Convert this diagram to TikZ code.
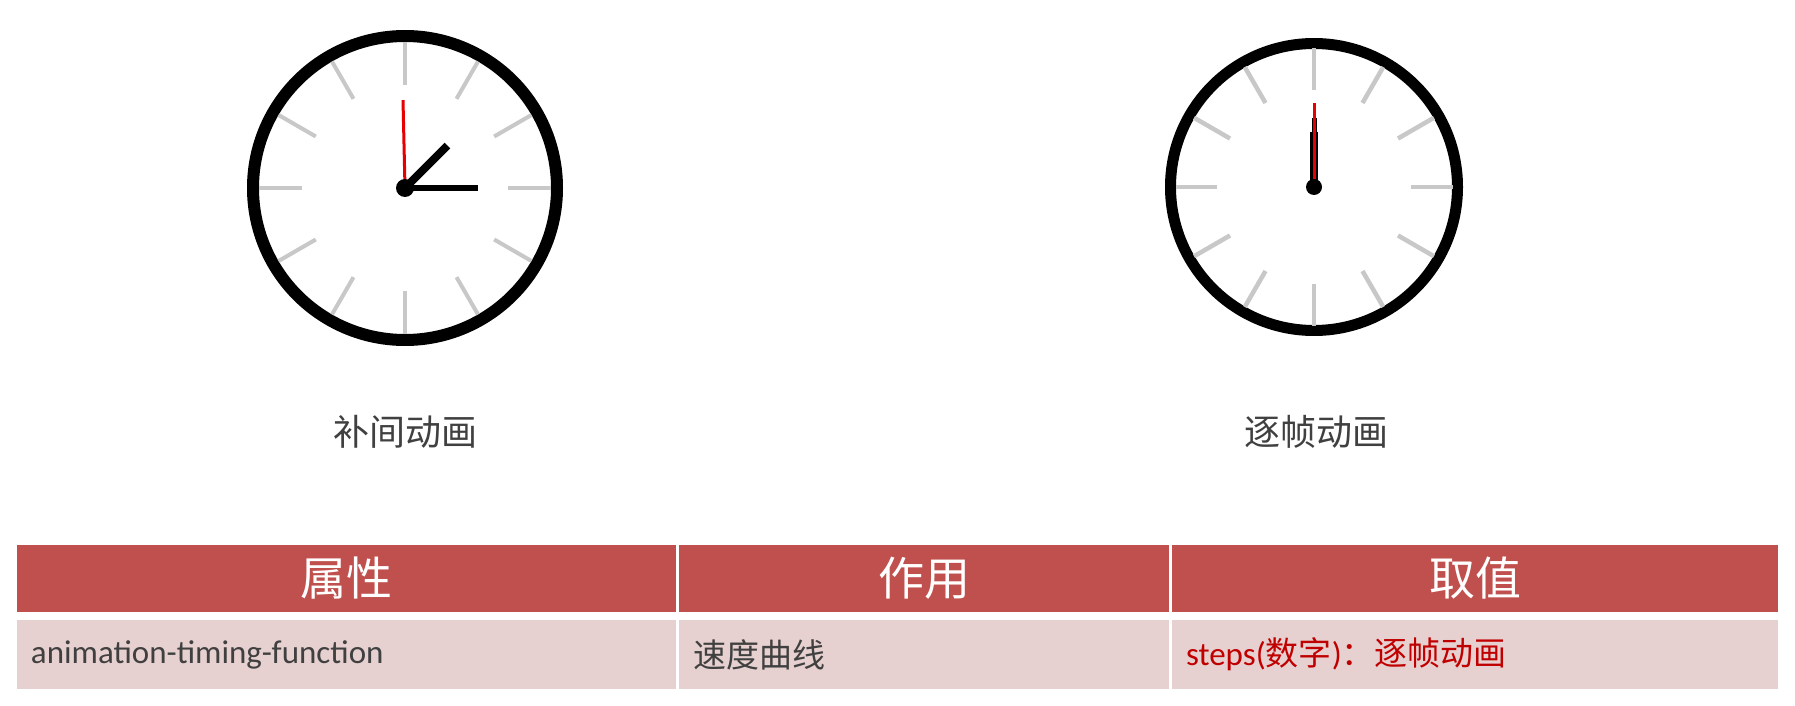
\documentclass[tikz,border=0pt]{standalone}
\usepackage{fontspec}
\setmainfont{Carlito}
\newfontfamily\cjk{Noto Sans CJK SC}
\usetikzlibrary{positioning,calc}
\definecolor{headred}{HTML}{C0504D}
\definecolor{rowpink}{HTML}{E7D0D0}
\definecolor{tickgray}{HTML}{C8C8C8}
\definecolor{handred}{HTML}{E60000}
\definecolor{textgray}{HTML}{404040}
\definecolor{valred}{HTML}{C00000}

\begin{document}
\begin{tikzpicture}[
    x=0.5pt, y=-0.5pt,
    dial/.style={draw=black, fill=white},
    dialtick/.style={draw=tickgray},
    clockhand/.style={draw=black},
    redhand/.style={draw=handred, line width=1.5pt},
    caption/.style={text=textgray, font=\cjk\fontsize{18}{22}\selectfont},
    headcell/.style={fill=headred, text=white, font=\cjk\fontsize{23}{27}\selectfont, inner sep=0pt, outer sep=0pt, minimum height=33.5pt, align=center},
    bodycell/.style={fill=rowpink, text=textgray, font=\fontsize{16.5}{20}\selectfont, inner xsep=7pt, inner ysep=0pt, outer sep=0pt, minimum height=34.5pt, align=left}
]
\fill[white] (0,0) rectangle (1795,706);
\useasboundingbox (0,0) rectangle (1795,706);

\coordinate (tween) at (405,188);
\draw[dial, line width=6pt] (tween) circle[radius=152];
\foreach \a in {0,30,...,330}
    \draw[dialtick, line width=2pt] ($(tween)+(\a:103)$) -- ($(tween)+(\a:146)$);
\draw[redhand] (tween) -- ++(-91.3:88);
\draw[clockhand, line width=4pt] (tween) -- ++(-45:60);
\draw[clockhand, line width=3pt] (tween) -- ++(0:73);
\fill (tween) circle[radius=9];

\coordinate (frame) at (1314,187);
\draw[dial, line width=5.5pt] (frame) circle[radius=143.5];
\foreach \a in {0,30,...,330}
    \draw[dialtick, line width=2.25pt] ($(frame)+(\a:97)$) -- ($(frame)+(\a:138.5)$);
\draw[clockhand, line width=4pt] (frame) -- ++(0,-55);
\draw[clockhand, line width=2.5pt] (frame) -- ++(0,-69);
\draw[redhand] (frame) -- ++(0,-84);
\fill (frame) circle[radius=8];

\node[caption] (captween) at (405,432) {补间动画};
\node[caption] (capframe) at (1316,432) {逐帧动画};

\node[headcell, minimum width=329.5pt, anchor=north west] (hprop) at (17,545) {属性};
\node[headcell, minimum width=245pt, right=1.5pt of hprop] (huse) {作用};
\node[headcell, minimum width=303pt, right=1.5pt of huse] (hval) {取值};
\node[bodycell, text width=315.5pt, below=4pt of hprop] (bprop) {animation-timing-function};
\node[bodycell, text width=231pt, below=4pt of huse] (buse) {{\cjk 速度曲线}};
\node[bodycell, text width=289pt, below=4pt of hval, text=valred] (bval) {steps({\cjk 数字}){\cjk ：逐帧动画}};
\end{tikzpicture}
\end{document}
